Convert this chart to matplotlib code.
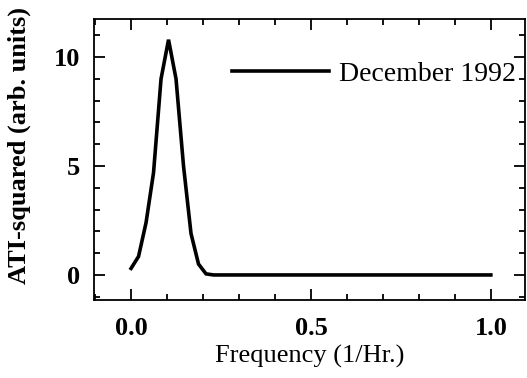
"""
ATI-squared spectrum for December 1992.
"""
import numpy as np
import matplotlib
matplotlib.use('Agg')
import matplotlib.pyplot as plt
from matplotlib.ticker import MultipleLocator

plt.rcParams['font.family'] = ['Liberation Serif', 'DejaVu Serif']

# frequency samples every 1/48 per hour, 0 .. 1
freq = np.arange(49) / 48.0
ati_sq = [0.3, 0.85, 2.4, 4.7, 9.0, 10.8, 9.0, 5.0, 1.9, 0.5, 0.05] + [0.0] * 38
series_label = 'December 1992'

fig = plt.figure(figsize=(5.27, 3.78), dpi=100)
ax = fig.add_axes([94/527., 1 - 300/378., (525-94)/527., (300-19)/378.])

ax.plot(freq, ati_sq, color='black', lw=2.6, label=series_label,
        solid_joinstyle='miter')

ax.set_xlim(-0.103, 1.095)
ax.set_ylim(-1.15, 11.75)
ax.xaxis.set_major_locator(MultipleLocator(0.5))
ax.xaxis.set_minor_locator(MultipleLocator(0.1))
ax.yaxis.set_major_locator(MultipleLocator(5))
ax.yaxis.set_minor_locator(MultipleLocator(1))
ax.xaxis.set_major_formatter(plt.FormatStrFormatter('%.1f'))
ax.yaxis.set_major_formatter(plt.FormatStrFormatter('%d'))
ax.tick_params(which='both', direction='in', top=True, right=True, width=1.3)
ax.tick_params(which='major', length=8, labelsize=19)
ax.tick_params(axis='x', which='major', pad=12)
ax.tick_params(axis='y', which='major', pad=10)
ax.tick_params(which='minor', length=4)
for lab in ax.get_xticklabels() + ax.get_yticklabels():
    lab.set_fontweight('bold')
for sp in ax.spines.values():
    sp.set_linewidth(1.3)

ax.set_xlabel('Frequency (1/Hr.)', fontsize=19, labelpad=4)
ax.set_ylabel('ATI-squared (arb. units)', fontsize=19, fontweight='bold')
ax.yaxis.set_label_coords(-0.146, 0.55)

leg = ax.legend(loc='center right', frameon=False, fontsize=20,
                handlelength=3.5, handletextpad=0.36, borderpad=0,
                bbox_to_anchor=(0.979, 0.804), borderaxespad=0)

plt.savefig('out.png', dpi=100)
